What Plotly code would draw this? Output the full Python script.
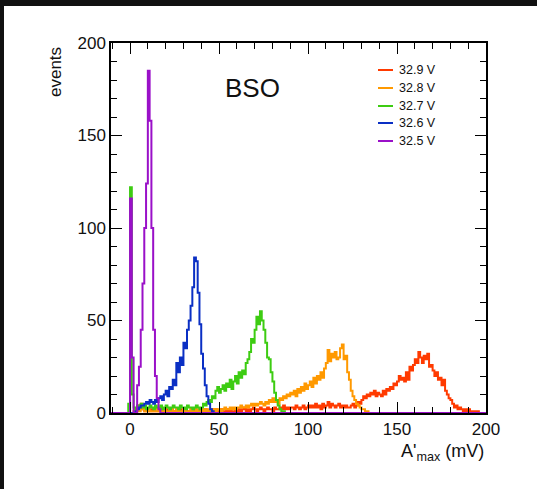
import plotly.graph_objects as go

# ---------------- data ----------------
labels = ["32.9 V", "32.8 V", "32.7 V", "32.6 V", "32.5 V"]
colors = ["#ff3a00", "#ff9900", "#3dcc12", "#0a2fc4", "#9a10c8"]
bin_width = 1.0
first_bin = [1, 3, -1, 3, 0]

counts_329 = [0, 1, 2, 3, 4, 5, 2, 1, 1, 2,
              1, 2, 1, 1, 2, 1, 2, 1, 1, 2,
              1, 1, 2, 1, 1, 2, 1, 2, 1, 1,
              2, 1, 1, 2, 1, 2, 1, 1, 2, 1,
              1, 2, 1, 1, 1, 2, 1, 2, 1, 1,
              2, 1, 1, 2, 1, 2, 1, 1, 2, 1,
              2, 1, 2, 3, 1, 2, 1, 2, 3, 2,
              1, 2, 3, 2, 1, 2, 3, 2, 2, 1,
              3, 2, 2, 3, 2, 4, 2, 3, 2, 3,
              3, 2, 4, 3, 2, 3, 4, 2, 3, 4,
              3, 4, 3, 5, 3, 4, 2, 5, 3, 4,
              6, 3, 5, 4, 3, 4, 5, 3, 4, 3,
              4, 3, 3, 4, 5, 3, 4, 6, 5, 7,
              9, 8, 10, 9, 11, 10, 12, 9, 11, 10,
              9, 12, 10, 13, 12, 14, 13, 16, 15, 17,
              20, 18, 19, 17, 22, 18, 25, 23, 26, 29,
              27, 33, 30, 27, 31, 29, 32, 25, 26, 23,
              20, 22, 18, 19, 15, 18, 12, 10, 8, 7,
              5, 3, 4, 2, 3, 2, 1, 2, 1, 2,
              1, 1, 0, 1, 1, 0]

counts_328 = [1, 2, 1, 3, 2, 1, 1, 2, 1, 1,
              1, 1, 2, 1, 1, 1, 2, 1, 1, 1,
              2, 1, 1, 2, 1, 1, 1, 2, 1, 1,
              1, 2, 1, 1, 2, 1, 1, 2, 1, 2,
              1, 2, 1, 1, 2, 1, 2, 2, 1, 2,
              3, 2, 2, 3, 2, 3, 2, 3, 3, 4,
              3, 3, 4, 3, 4, 5, 4, 5, 4, 5,
              6, 5, 4, 6, 5, 7, 6, 8, 6, 7,
              5, 8, 7, 9, 8, 10, 9, 11, 10, 12,
              9, 13, 11, 14, 12, 16, 13, 15, 17, 14,
              19, 16, 20, 18, 22, 19, 24, 27, 34, 28,
              32, 30, 33, 29, 30, 35, 37, 29, 31, 22,
              18, 12, 9, 7, 5, 4, 3, 2, 2, 1, 1]

counts_327 = [5, 122, 10,
              3, 2, 4, 3, 5, 3, 4, 2, 3, 4,
              3, 2, 4, 3, 3, 4, 2, 3, 4, 3,
              2, 3, 4, 3, 3, 2, 4, 3, 3, 2,
              4, 3, 3, 2, 3, 4, 3, 2, 3,
              5, 4, 6, 7, 6, 9, 8, 12, 14, 11,
              13, 15, 12, 16, 14, 18, 13, 17, 20, 16,
              22, 19, 23, 21, 27, 29, 33, 40, 38, 45,
              52, 48, 55, 50, 45, 38, 30, 29, 22, 17,
              11, 7, 4, 2, 1, 1]

counts_326 = [1, 2, 3, 4, 4, 5, 6, 5, 7, 6,
              5, 7, 6, 8, 9, 7, 10, 12, 9, 14,
              13, 18, 15, 27, 22, 30, 26, 38, 35, 45,
              50, 58, 68, 84, 82, 65, 48, 32, 24, 15,
              9, 5, 2, 1]

counts_325 = [116, 30, 0, 0, 15, 25, 45, 70, 100, 124,
              185, 158, 100, 45, 20, 8, 2]

series_counts = [counts_329, counts_328, counts_327, counts_326, counts_325]

x_range = [-10.7, 200]
y_range = [0, 200]

# ---------------- layout geometry (px) ----------------
W, H = 537, 489
ML, MR, MT, MB = 111, 51, 43, 76
PW, PH = W - ML - MR, H - MT - MB


def px_x(p):
    return (p - ML) / PW


def px_y(p):
    return (H - MB - p) / PH


fig = go.Figure()

for lab, col, lo, cnt in zip(labels, colors, first_bin, series_counts):
    xs = [x_range[0]] + [lo + i * bin_width for i in range(len(cnt) + 1)] + [x_range[1]]
    ys = [0] + list(cnt) + [0, 0]
    fig.add_trace(go.Scatter(x=xs, y=ys, mode="lines", line_shape="hv",
                             line=dict(color=col, width=2), name=lab,
                             showlegend=False, hoverinfo="skip"))

font_family = "Liberation Sans, Arial, Helvetica, sans-serif"
tick_font = dict(family=font_family, size=17, color="#111")

fig.update_layout(
    width=W, height=H,
    margin=dict(l=ML, r=MR, t=MT, b=MB, pad=0),
    paper_bgcolor="#111111",
    plot_bgcolor="white",
    showlegend=False,
)

axis_common = dict(showgrid=False, zeroline=False, showline=True, linecolor="black",
                   linewidth=1.5, mirror="allticks", ticks="inside", ticklen=11,
                   tickwidth=1, tickcolor="black", tickfont=tick_font)

fig.update_xaxes(range=x_range, tickmode="array", tickvals=[0, 50, 100, 150, 200],
                 minor=dict(ticks="inside", ticklen=6, dtick=10, tick0=0, tickcolor="black"),
                 **axis_common)
fig.update_yaxes(range=y_range, tickmode="array", tickvals=[0, 50, 100, 150, 200],
                 minor=dict(ticks="inside", ticklen=6, dtick=10, tick0=0, tickcolor="black"),
                 **axis_common)

shapes = [dict(type="rect", xref="paper", yref="paper", layer="below",
               x0=px_x(4), x1=px_x(W + 20), y0=px_y(H + 20), y1=px_y(6),
               fillcolor="white", line=dict(width=0))]

annotations = [
    dict(text="BSO", x=px_x(252), y=px_y(88), xref="paper", yref="paper",
         showarrow=False, font=dict(family=font_family, size=26, color="#111"),
         xanchor="center", yanchor="middle"),
    dict(text="events", x=px_x(55), y=px_y(72), xref="paper", yref="paper",
         showarrow=False, textangle=-90, font=dict(family=font_family, size=17, color="#111"),
         xanchor="center", yanchor="middle"),
    dict(text="A'<sub>max</sub> (mV)", x=1.0, y=px_y(452), xref="paper", yref="paper",
         showarrow=False, font=dict(family=font_family, size=18, color="#111"),
         xanchor="right", yanchor="middle"),
]

leg_y = [70, 88, 106, 123, 141]
for lab, col, yy in zip(labels, colors, leg_y):
    shapes.append(dict(type="line", xref="paper", yref="paper",
                       x0=px_x(378), x1=px_x(393), y0=px_y(yy), y1=px_y(yy),
                       line=dict(color=col, width=2)))
    annotations.append(dict(text=lab, x=px_x(397), y=px_y(yy), xref="paper", yref="paper",
                            showarrow=False, xanchor="left", yanchor="middle",
                            font=dict(family=font_family, size=12.5, color="#111")))

fig.update_layout(shapes=shapes, annotations=annotations)

fig.write_html("out.html")
